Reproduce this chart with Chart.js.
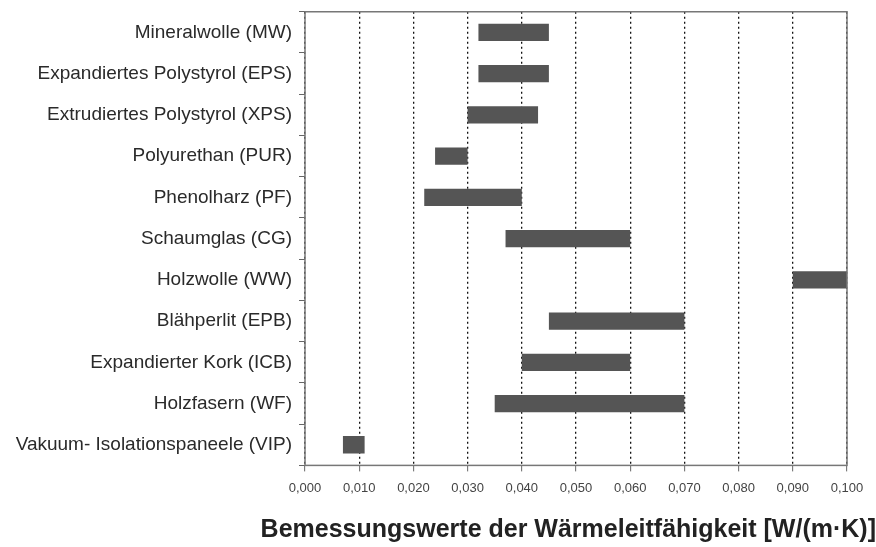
<!DOCTYPE html>
<html>
<head>
<meta charset="utf-8">
<script src="https://cdn.jsdelivr.net/npm/chart.js@4/dist/chart.umd.min.js"></script>
<style>
  html, body { margin: 0; padding: 0; background: #fff; }
  #wrap { width: 876px; height: 547px; }
</style>
</head>
<body>
<div id="wrap"><canvas id="c" width="876" height="547"></canvas></div>
<script>
const categories = [
  "Mineralwolle (MW)",
  "Expandiertes Polystyrol (EPS)",
  "Extrudiertes Polystyrol (XPS)",
  "Polyurethan (PUR)",
  "Phenolharz (PF)",
  "Schaumglas (CG)",
  "Holzwolle (WW)",
  "Blähperlit (EPB)",
  "Expandierter Kork (ICB)",
  "Holzfasern (WF)",
  "Vakuum- Isolationspaneele (VIP)"
];
const lowValues  = [0.032, 0.032, 0.030, 0.024, 0.022, 0.037, 0.090, 0.045, 0.040, 0.035, 0.007];
const highValues = [0.045, 0.045, 0.043, 0.030, 0.040, 0.060, 0.100, 0.070, 0.060, 0.070, 0.011];
const xTickLabels = ["0,000","0,010","0,020","0,030","0,040","0,050","0,060","0,070","0,080","0,090","0,100"];
const axisTitle = "Bemessungswerte der Wärmeleitfähigkeit [W/(m·K)]";

const ranges = lowValues.map((lo, i) => [lo, highValues[i]]);

const framePlugin = {
  id: 'frame',
  afterDraw(chart) {
    const { ctx, chartArea: a } = chart;
    ctx.save();
    ctx.strokeStyle = '#777';
    ctx.lineWidth = 1.5;
    ctx.strokeRect(a.left, a.top, a.right - a.left, a.bottom - a.top);
    ctx.restore();
  }
};

new Chart(document.getElementById('c'), {
  type: 'bar',
  data: {
    labels: categories,
    datasets: [{
      data: ranges,
      backgroundColor: '#555555',
      borderWidth: 0,
      borderSkipped: false,
      barPercentage: 0.42,
      categoryPercentage: 1.0
    }]
  },
  options: {
    indexAxis: 'y',
    responsive: false,
    animation: false,
    layout: { padding: { top: 9, right: 0, bottom: 0, left: 0 } },
    plugins: {
      legend: { display: false },
      tooltip: { enabled: false },
      title: {
        display: true,
        position: 'bottom',
        align: 'end',
        text: axisTitle,
        color: '#222',
        font: { family: 'Liberation Sans', size: 25, weight: 'bold', lineHeight: 1.2 },
        padding: { top: 10, bottom: 2 }
      }
    },
    scales: {
      x: {
        min: 0, max: 0.1,
        ticks: {
          stepSize: 0.01,
          color: '#444',
          font: { family: 'Liberation Sans', size: 13 },
          padding: 9,
          maxRotation: 0,
          callback: (v, i) => xTickLabels[i]
        },
        grid: {
          color: '#111',
          lineWidth: 1.3,
          drawTicks: true,
          tickLength: 6,
          tickBorderDash: [],
          tickColor: '#666',
          tickWidth: 1
        },
        border: { display: false, dash: [2, 3] }
      },
      y: {
        afterFit(scale) { scale.width = 305; },
        ticks: {
          color: '#2a2a2a',
          font: { family: 'Liberation Sans', size: 19, lineHeight: 0.5 },
          padding: 7
        },
        grid: {
          offset: true,
          drawOnChartArea: false,
          drawTicks: true,
          tickLength: 6,
          color: '#666'
        },
        border: { display: false }
      },
      yRight: {
        type: 'category',
        position: 'right',
        afterFit(scale) { scale.width = 29; },
        ticks: { display: false },
        grid: { display: false },
        border: { display: false }
      }
    }
  },
  plugins: [framePlugin]
});
</script>
</body>
</html>
